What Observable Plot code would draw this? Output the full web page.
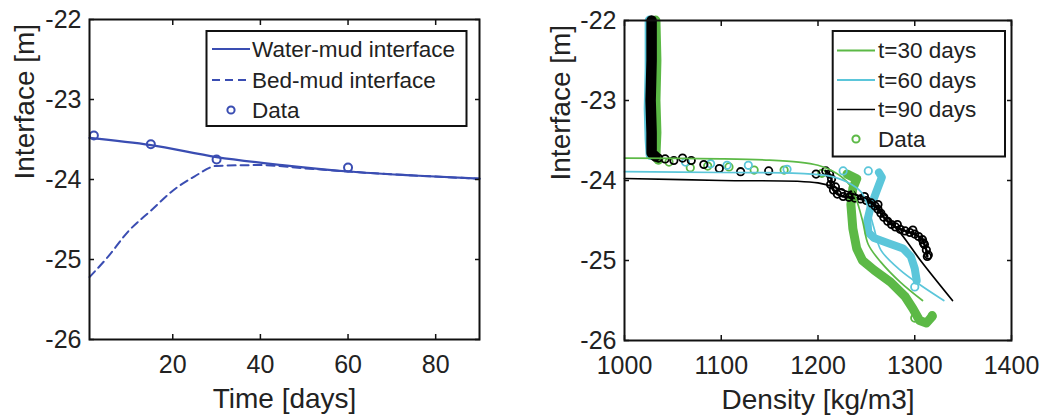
<!DOCTYPE html>
<html>
<head>
<meta charset="utf-8">
<script src="https://cdn.jsdelivr.net/npm/d3@7"></script>
<script src="https://cdn.jsdelivr.net/npm/@observablehq/plot@0.6"></script>
<style>
  html, body { margin: 0; padding: 0; background: #fff; }
  #wrap { position: relative; width: 1047px; height: 416px; overflow: hidden; background: #fff; }
  #left { position: absolute; left: 0; top: 0; }
  #right { position: absolute; left: 520px; top: 0; }
</style>
</head>
<body>
<div id="wrap"><div id="left"></div><div id="right"></div></div>
<script>
// ---------------- Left panel data ----------------
const timeWaterMud = [1, 15, 30, 45, 60, 75, 90];
const waterMud     = [-23.48, -23.57, -23.72, -23.82, -23.90, -23.95, -23.99];
const timeBedMud   = [1, 5, 10, 15, 20, 25, 30, 40, 50, 60, 75, 90];
const bedMud       = [-25.22, -24.98, -24.64, -24.39, -24.14, -23.96, -23.83, -23.82, -23.86, -23.90, -23.95, -23.99];
const timeObs      = [2, 15, 30, 60];
const interfaceObs = [-23.45, -23.56, -23.75, -23.85];
const timeTicks    = [20, 40, 60, 80];
const depthTicks   = [-26, -25, -24, -23, -22];
const leftLabels   = ["Water-mud interface", "Bed-mud interface", "Data"];

// ---------------- Right panel data ----------------
const densityTicks = [1000, 1100, 1200, 1300, 1400];
const rightLabels  = ["t=30 days", "t=60 days", "t=90 days", "Data"];

// model profiles
const model30Density = [1000, 1100, 1150, 1180, 1200, 1215, 1225, 1233, 1240, 1246, 1252, 1265, 1285, 1308];
const model30Depth   = [-23.72, -23.73, -23.745, -23.77, -23.81, -23.88, -23.96, -24.06, -24.25, -24.5, -24.8, -25.02, -25.27, -25.5];
const model60Density = [1000, 1100, 1180, 1210, 1230, 1245, 1252, 1258, 1265, 1285, 1305, 1330];
const model60Depth   = [-23.89, -23.90, -23.91, -23.94, -24.02, -24.15, -24.35, -24.6, -24.87, -25.12, -25.3, -25.5];
const model90Density = [1000, 1100, 1200, 1223, 1237, 1254, 1271, 1288, 1306, 1339];
const model90Depth   = [-23.975, -24.0, -24.03, -24.11, -24.17, -24.25, -24.45, -24.7, -25.0, -25.5];

// measured profiles: dense parts (overlapping circles)
const obs30UpperDensity = [1032, 1033, 1032, 1033, 1032, 1035];
const obs30UpperDepth   = [-22.0, -22.5, -23.0, -23.4, -23.68, -23.74];
const obs30LowerDensity = [1230, 1240, 1236, 1234, 1236, 1240, 1246, 1258, 1275, 1290, 1298, 1305, 1312, 1318];
const obs30LowerDepth   = [-23.92, -23.98, -24.1, -24.3, -24.6, -24.85, -25.0, -25.12, -25.27, -25.45, -25.6, -25.75, -25.78, -25.7];
const obs60UpperDensity = [1026, 1026, 1025, 1026, 1027];
const obs60UpperDepth   = [-22.0, -22.6, -23.1, -23.5, -23.68];
const obs60LowerDensity = [1263, 1266, 1260, 1254, 1251, 1252, 1258, 1272, 1288, 1296, 1300, 1302];
const obs60LowerDepth   = [-23.9, -23.96, -24.15, -24.35, -24.5, -24.65, -24.72, -24.78, -24.85, -24.95, -25.1, -25.25];
const obs90UpperDensity = [1028, 1028, 1027, 1028, 1028, 1032];
const obs90UpperDepth   = [-22.0, -22.5, -23.0, -23.4, -23.66, -23.7];
const obs90LowerDensity = [1208, 1212, 1214, 1213, 1216, 1220, 1226, 1232, 1238, 1244, 1250, 1255, 1259, 1262, 1265, 1268, 1272, 1276, 1280, 1285, 1290, 1295, 1300, 1304, 1308, 1310, 1312, 1313];
const obs90LowerDepth   = [-23.88, -23.92, -23.98, -24.05, -24.12, -24.17, -24.2, -24.21, -24.22, -24.23, -24.25, -24.28, -24.32, -24.36, -24.41, -24.46, -24.51, -24.55, -24.58, -24.61, -24.63, -24.65, -24.67, -24.7, -24.74, -24.8, -24.87, -24.95];
// measured profiles: separate circles
const obs30Density = [1046, 1068, 1086, 1108, 1134, 1165, 1204, 1300, 1318];
const obs30Depth   = [-23.77, -23.84, -23.82, -23.83, -23.87, -23.87, -23.91, -25.72, -25.69];
const obs60Density = [1063, 1089, 1106, 1128, 1168, 1226, 1252, 1300];
const obs60Depth   = [-23.77, -23.79, -23.81, -23.81, -23.86, -23.88, -23.88, -25.33];
const obs90Density = [1035, 1042, 1051, 1060, 1069, 1082, 1098, 1120, 1149, 1198, 1218, 1224, 1235, 1248, 1262, 1282, 1298, 1309, 1314];
const obs90Depth   = [-23.72, -23.73, -23.75, -23.72, -23.75, -23.80, -23.85, -23.89, -23.88, -23.92, -24.08, -24.15, -24.18, -24.2, -24.3, -24.55, -24.62, -24.78, -24.93];

// ---------------- helpers ----------------
const zip = (xs, ys) => xs.map((x, i) => ({x, y: ys[i]}));
const BLUE = "#3a4db2", GREEN = "#5cb946", CYAN = "#5bc6da", BLACK = "#000000";
const FONT = "'Liberation Sans', Arial, Helvetica, sans-serif";
const TEXT = "#222";
const fmt = d => String(d);

function axes(xTicks, yTicks) {
  return [
    Plot.axisX(xTicks, {anchor: "bottom", tickSize: -5, tickPadding: 21, fontSize: 25, tickFormat: fmt, label: null, stroke: "#111", strokeWidth: 1.5}),
    Plot.axisX(xTicks, {anchor: "top", tickSize: -5, tickFormat: () => "", label: null, stroke: "#111", strokeWidth: 1.5}),
    Plot.axisY(yTicks, {anchor: "left", tickSize: -5, tickPadding: 13, fontSize: 25, tickFormat: fmt, label: null, stroke: "#111", strokeWidth: 1.5}),
    Plot.axisY(yTicks, {anchor: "right", tickSize: -5, tickFormat: () => "", label: null, stroke: "#111", strokeWidth: 1.5}),
    Plot.frame({stroke: "#111", strokeWidth: 2})
  ];
}
function axisTitles(xTitle, yTitle, yDx) {
  return [
    Plot.text([xTitle], {text: d => d, frameAnchor: "bottom", dy: 60, fontSize: 28, fill: TEXT, lineAnchor: "middle"}),
    Plot.text([yTitle], {text: d => d, frameAnchor: "left", dx: yDx, rotate: -90, fontSize: 28, fill: TEXT, lineAnchor: "middle"})
  ];
}
function legend(svg, box, rows) {
  const g = d3.select(svg).append("g").attr("font-family", FONT).attr("font-size", 22.5).attr("fill", TEXT).attr("text-anchor", "start");
  g.append("rect").attr("x", box.x0).attr("y", box.y0).attr("width", box.x1 - box.x0).attr("height", box.y1 - box.y0)
    .attr("fill", "white").attr("stroke", "#111").attr("stroke-width", 2);
  rows.forEach(r => {
    if (r.kind === "line") {
      g.append("line").attr("x1", box.lx0).attr("x2", box.lx1).attr("y1", r.y).attr("y2", r.y)
        .attr("stroke", r.color).attr("stroke-width", r.width).attr("stroke-dasharray", r.dash || null);
    } else {
      g.append("circle").attr("cx", (box.lx0 + box.lx1) / 2).attr("cy", r.y).attr("r", 3.6)
        .attr("fill", "none").attr("stroke", r.color).attr("stroke-width", 2);
    }
    g.append("text").attr("x", box.tx).attr("y", r.y).attr("dy", "0.35em").attr("text-anchor", "start").text(r.label);
  });
}

// ---------------- Left panel ----------------
const left = Plot.plot({
  width: 520, height: 416,
  marginLeft: 89, marginRight: 41, marginTop: 19, marginBottom: 77,
  style: {fontFamily: FONT, color: TEXT, background: "white", overflow: "visible"},
  x: {domain: [1, 90]},
  y: {domain: [-26, -22]},
  marks: [
    Plot.line(zip(timeBedMud, bedMud), {x: "x", y: "y", stroke: BLUE, strokeWidth: 2, strokeDasharray: "8,5", curve: "monotone-x"}),
    Plot.line(zip(timeWaterMud, waterMud), {x: "x", y: "y", stroke: BLUE, strokeWidth: 2.2, curve: "monotone-x"}),
    Plot.dot(zip(timeObs, interfaceObs), {x: "x", y: "y", r: 4, stroke: BLUE, strokeWidth: 2, fill: "none"}),
    ...axes(timeTicks, depthTicks),
    ...axisTitles("Time [days]", "Interface [m]", -64)
  ]
});
legend(left, {x0: 206.5, y0: 31, x1: 466.5, y1: 126, lx0: 212, lx1: 250, tx: 252}, [
  {kind: "line", y: 49, color: BLUE, width: 2.2, label: leftLabels[0]},
  {kind: "line", y: 80, color: BLUE, width: 2, dash: "8,5", label: leftLabels[1]},
  {kind: "dot", y: 110, color: BLUE, label: leftLabels[2]}
]);
document.getElementById("left").append(left);

// ---------------- Right panel ----------------
const band = (xs, ys, color, w) => Plot.line(zip(xs, ys), {x: "x", y: "y", stroke: color, strokeWidth: w, strokeLinecap: "round", strokeLinejoin: "round"});
const circles = (xs, ys, color) => Plot.dot(zip(xs, ys), {x: "x", y: "y", r: 3.7, stroke: color, strokeWidth: 1.8, fill: "none"});
const model = (xs, ys, color) => Plot.line(zip(xs, ys), {x: "x", y: "y", stroke: color, strokeWidth: 1.7, curve: "catmull-rom"});

const right = Plot.plot({
  width: 527, height: 416,
  marginLeft: 104, marginRight: 36, marginTop: 20, marginBottom: 76,
  style: {fontFamily: FONT, color: TEXT, background: "white", overflow: "visible"},
  x: {domain: [1000, 1400]},
  y: {domain: [-26, -22]},
  marks: [
    band(obs30UpperDensity, obs30UpperDepth, GREEN, 10),
    band(obs30LowerDensity, obs30LowerDepth, GREEN, 9),
    circles(obs30Density, obs30Depth, GREEN),
    band(obs60UpperDensity, obs60UpperDepth, CYAN, 10),
    band(obs60LowerDensity, obs60LowerDepth, CYAN, 8),
    circles(obs60Density, obs60Depth, CYAN),
    band(obs90UpperDensity, obs90UpperDepth, BLACK, 10.5),
    Plot.line(zip(obs90LowerDensity, obs90LowerDepth), {x: "x", y: "y", stroke: BLACK, strokeWidth: 2.5, strokeLinejoin: "round"}),
    circles(obs90LowerDensity, obs90LowerDepth, BLACK),
    circles(obs90Density, obs90Depth, BLACK),
    model(model30Density, model30Depth, GREEN),
    model(model60Density, model60Depth, CYAN),
    model(model90Density, model90Depth, BLACK),
    ...axes(densityTicks, depthTicks),
    ...axisTitles("Density [kg/m3]", "Interface [m]", -63)
  ]
});
legend(right, {x0: 312.7, y0: 31, x1: 485, y1: 156.5, lx0: 317, lx1: 355, tx: 358}, [
  {kind: "line", y: 50.5, color: GREEN, width: 2.2, label: rightLabels[0]},
  {kind: "line", y: 80, color: CYAN, width: 2.2, label: rightLabels[1]},
  {kind: "line", y: 109.5, color: BLACK, width: 1.6, label: rightLabels[2]},
  {kind: "dot", y: 139, color: GREEN, label: rightLabels[3]}
]);
document.getElementById("right").append(right);
</script>
</body>
</html>
